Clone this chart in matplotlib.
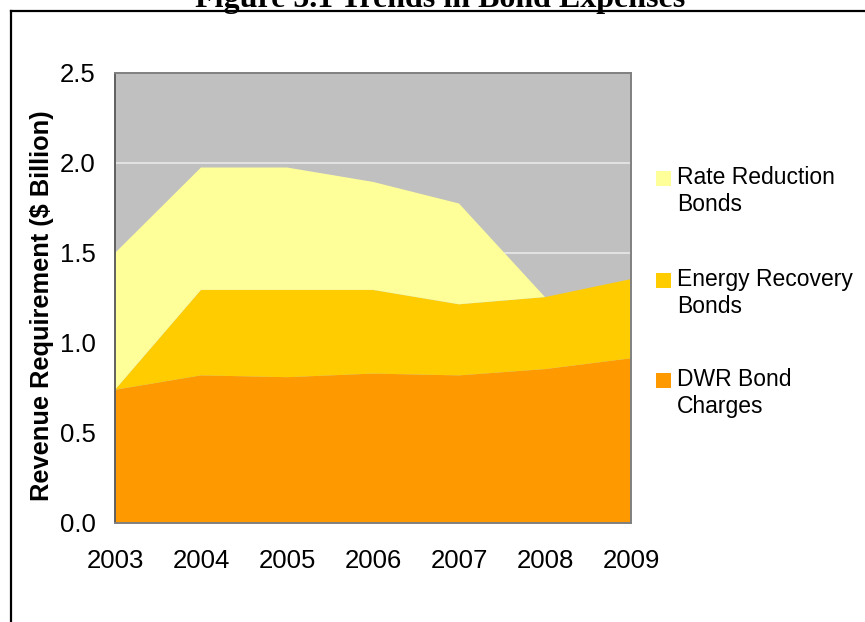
import matplotlib
matplotlib.use("Agg")
import matplotlib.pyplot as plt
from matplotlib.patches import Rectangle
from matplotlib.lines import Line2D

years = [2003, 2004, 2005, 2006, 2007, 2008, 2009]
dwr_bond_charges = [0.74, 0.82, 0.81, 0.83, 0.82, 0.855, 0.915]
energy_recovery_bonds = [0.00, 0.475, 0.485, 0.465, 0.395, 0.40, 0.44]
rate_reduction_bonds = [0.76, 0.68, 0.68, 0.60, 0.56, 0.00, 0.00]

series_labels = ["DWR Bond\nCharges", "Energy Recovery\nBonds", "Rate Reduction\nBonds"]
series_colors = ["#FF9900", "#FFCC00", "#FFFF99"]
y_ticks = [0.0, 0.5, 1.0, 1.5, 2.0, 2.5]

W, H = 865, 622
fig = plt.figure(figsize=(W / 100, H / 100), dpi=100)
plt.rcParams["font.family"] = ["Liberation Sans", "DejaVu Sans"]

# outer frame (only top and left edges fall inside the canvas)
fig.add_artist(Line2D([10.5 / W, 10.5 / W], [0, 1 - 10.5 / H], transform=fig.transFigure,
                      color="black", lw=1.6))
fig.add_artist(Line2D([10.5 / W, 1.0], [1 - 10.5 / H, 1 - 10.5 / H], transform=fig.transFigure,
                      color="black", lw=1.6))

# title, partially above the canvas
fig.text(440 / W, 1 - 7 / H, "Figure 5.1 Trends in Bond Expenses", ha="center", va="baseline",
         fontsize=23, fontweight="bold", family=["Liberation Serif", "DejaVu Serif"])

ax = fig.add_axes([115 / W, 1 - 523 / H, (631 - 115) / W, (523 - 73) / H])
ax.set_facecolor("#C0C0C0")
ax.set_axisbelow(True)
ax.yaxis.grid(True, color="#E8E8E8", lw=1.2)
ax.stackplot(years, dwr_bond_charges, energy_recovery_bonds, rate_reduction_bonds,
             colors=series_colors, linewidth=0, zorder=2)

ax.set_xlim(years[0], years[-1])
ax.set_ylim(y_ticks[0], y_ticks[-1])
ax.set_yticks(y_ticks)
ax.set_yticklabels([f"{v:.1f}" for v in y_ticks])
ax.set_xticks(years)
ax.set_xticklabels([str(y) for y in years])
ax.tick_params(axis="both", length=0, labelsize=18.5, colors="black")
ax.tick_params(axis="y", pad=14)
ax.tick_params(axis="x", pad=19)
for side in ("top", "right", "bottom", "left"):
    ax.spines[side].set_color("#808080")
    ax.spines[side].set_linewidth(1.4)
ax.spines["left"].set_color("#606060")

fig.text(42 / W, 1 - 306 / H, "Revenue Requirement ($ Billion)", rotation=90,
         ha="center", va="center", fontsize=18.3, fontweight="bold")

# legend: entries listed top to bottom in reverse stacking order
legend_y = [178, 280, 380]
for label, color, yc in zip(series_labels[::-1], series_colors[::-1], legend_y):
    fig.add_artist(Rectangle((656 / W, 1 - (yc + 7.5) / H), 15 / W, 15 / H,
                             transform=fig.transFigure, facecolor=color, edgecolor="none"))
    fig.text(677 / W, 1 - (yc - 12) / H, label, ha="left", va="top", fontsize=16.5,
             linespacing=1.2)

fig.savefig("out.png", dpi=100)
